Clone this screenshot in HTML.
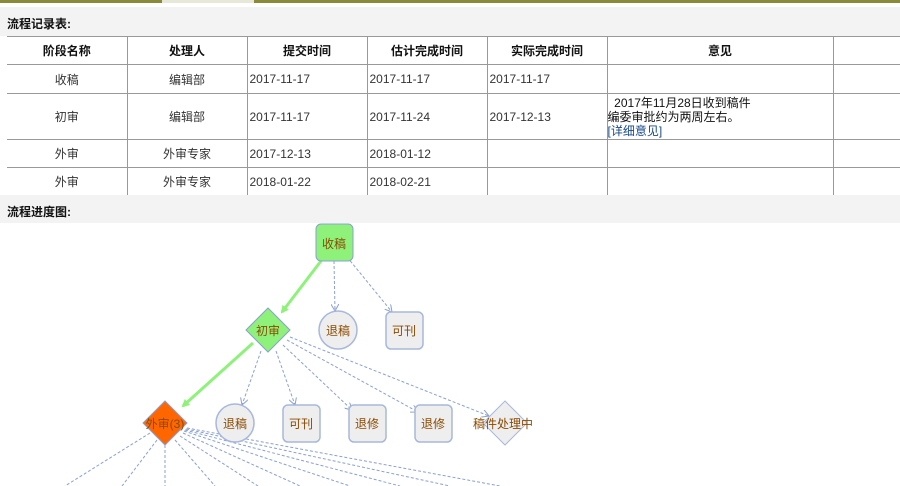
<!DOCTYPE html>
<html><head><meta charset="utf-8"><style>
body{margin:0;width:900px;height:486px;overflow:hidden;background:#fff;font-family:"Liberation Sans","Noto Sans CJK SC",sans-serif;font-size:12px;color:#222;position:relative}
.abs{position:absolute}
.band{position:absolute;left:0;width:900px;background:#f3f3f3}
.h{position:absolute;left:7px;font-weight:bold;font-size:12px;color:#111}
table{position:absolute;left:7px;top:36px;border-collapse:collapse;width:893px;table-layout:fixed}
td{border:1px solid #999;border-top:none;height:27px;padding:0 2px;font-size:12px;color:#333}
td:first-child{border-left:none}
tr:first-child td{font-weight:bold;text-align:center;color:#111;border-top:1px solid #999}
td.c{text-align:center}
</style></head><body>
<div class="abs" style="left:0;top:0;width:900px;height:3px;background:#8a8a3a"></div>
<div class="abs" style="left:162px;top:0;width:92px;height:3px;background:#e8e8d8"></div>
<div class="band" style="top:7px;height:29px"></div>
<div class="h" style="top:15px">流程记录表:</div>
<table>
<colgroup><col style="width:120px"><col style="width:120px"><col style="width:120px"><col style="width:120px"><col style="width:120px"><col style="width:226px"><col></colgroup>
<tr style="height:28px"><td>阶段名称</td><td>处理人</td><td>提交时间</td><td>估计完成时间</td><td>实际完成时间</td><td>意见</td><td style="border-right:none"></td></tr>
<tr style="height:29px"><td class="c">收稿</td><td class="c">编辑部</td><td>2017-11-17</td><td>2017-11-17</td><td>2017-11-17</td><td></td><td style="border-right:none"></td></tr>
<tr style="height:46px"><td class="c">初审</td><td class="c">编辑部</td><td>2017-11-17</td><td>2017-11-24</td><td>2017-12-13</td><td style="padding:0;line-height:14px;color:#111">&nbsp;&nbsp;2017年11月28日收到稿件<br>编委审批约为两周左右。<br><span style="color:#1a4a8a">[详细意见]</span></td><td style="border-right:none"></td></tr>
<tr style="height:28px"><td class="c">外审</td><td class="c">外审专家</td><td>2017-12-13</td><td>2018-01-12</td><td></td><td></td><td style="border-right:none"></td></tr>
<tr style="height:28px"><td class="c">外审</td><td class="c">外审专家</td><td>2018-01-22</td><td>2018-02-21</td><td></td><td></td><td style="border-right:none"></td></tr>
</table>
<div class="band" style="top:195px;height:28px"></div>
<div class="h" style="top:203px">流程进度图:</div>
<svg class="abs" style="left:0;top:0" width="900" height="486">
<defs>
<marker id="g" markerWidth="8" markerHeight="8" refX="6" refY="4" orient="auto" markerUnits="userSpaceOnUse"><path d="M0,0 L8,4 L0,8 z" fill="#8ef27a"/></marker>
<marker id="b" markerWidth="8" markerHeight="8" refX="7" refY="4" orient="auto" markerUnits="userSpaceOnUse"><path d="M0,0 L7,4 L0,8" fill="none" stroke="#8aa0d0"/></marker>
</defs>
<g stroke="#8aa0d0" stroke-width="1" stroke-dasharray="3,2" fill="none">
<line x1="334" y1="261" x2="335" y2="311" marker-end="url(#b)"/>
<line x1="347" y1="257" x2="392" y2="312" marker-end="url(#b)"/>
<line x1="261" y1="351" x2="242" y2="405" marker-end="url(#b)"/>
<line x1="276" y1="351" x2="295" y2="405" marker-end="url(#b)"/>
<line x1="283" y1="345" x2="352" y2="410" marker-end="url(#b)"/>
<line x1="287" y1="340" x2="418" y2="412" marker-end="url(#b)"/>
<line x1="290" y1="337" x2="489" y2="416" marker-end="url(#b)"/>
<line x1="150" y1="433" x2="65" y2="486"/>
<line x1="157" y1="440" x2="122" y2="486"/>
<line x1="165" y1="445" x2="165" y2="486"/>
<line x1="175" y1="440" x2="215" y2="486"/>
<line x1="180" y1="436" x2="258" y2="486"/>
<line x1="183" y1="433" x2="300" y2="486"/>
<line x1="184" y1="431" x2="350" y2="486"/>
<line x1="185" y1="430" x2="400" y2="486"/>
<line x1="186" y1="429" x2="450" y2="486"/>
<line x1="187" y1="428" x2="500" y2="486"/>
</g>
<line x1="321" y1="261" x2="282" y2="312" stroke="#8ef27a" stroke-width="3" marker-end="url(#g)"/>
<line x1="253" y1="343" x2="183" y2="406" stroke="#8ef27a" stroke-width="3" marker-end="url(#g)"/>
<rect x="316" y="224" width="37" height="37" rx="5" fill="#8ef27a" stroke="#8aa0d0"/>
<polygon points="268,308 290,330 268,352 246,330" fill="#8ef27a" stroke="#8aa0d0"/>
<circle cx="338" cy="330" r="19" fill="#eee" stroke="#a8b8dc" stroke-width="1.5"/>
<rect x="386" y="312" width="37" height="37" rx="5" fill="#eee" stroke="#a8b8dc" stroke-width="1.5"/>
<polygon points="165,401 187,423 165,445 143,423" fill="#ff6600" stroke="#8aa0d0"/>
<circle cx="235" cy="423" r="19" fill="#eee" stroke="#a8b8dc" stroke-width="1.5"/>
<rect x="283" y="405" width="37" height="37" rx="5" fill="#eee" stroke="#a8b8dc" stroke-width="1.5"/>
<rect x="349" y="405" width="37" height="37" rx="5" fill="#eee" stroke="#a8b8dc" stroke-width="1.5"/>
<rect x="415" y="405" width="37" height="37" rx="5" fill="#eee" stroke="#a8b8dc" stroke-width="1.5"/>
<polygon points="505,401 527,423 505,445 483,423" fill="#eee" stroke="#a8b8dc"/>
<g font-family="Liberation Sans,Noto Sans CJK SC,sans-serif" font-size="12" fill="#8a4a00" text-anchor="middle">
<text x="334" y="248">收稿</text>
<text x="268" y="335">初审</text>
<text x="338" y="335">退稿</text>
<text x="404" y="335">可刊</text>
<text x="165" y="428">外审(3)</text>
<text x="235" y="428">退稿</text>
<text x="301" y="428">可刊</text>
<text x="367" y="428">退修</text>
<text x="433" y="428">退修</text>
<text x="503" y="428">稿件处理中</text>
</g>
</svg>
</body></html>
